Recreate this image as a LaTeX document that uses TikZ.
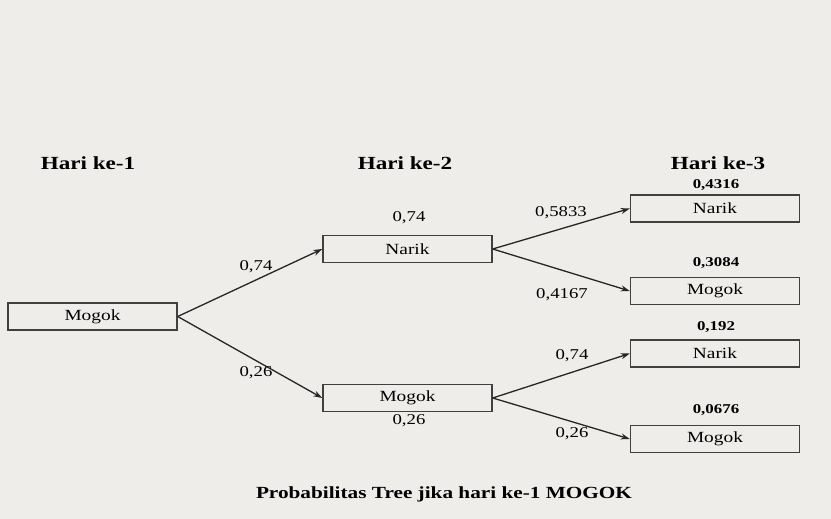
\documentclass[tikz,border=0pt]{standalone}
\usepackage{fontspec}
\setmainfont{Liberation Serif}[FakeStretch=1.25]
\usetikzlibrary{arrows.meta}
\definecolor{paper}{RGB}{238,237,234}
\begin{document}
\begin{tikzpicture}[x=1pt,y=-1pt,
  stbox/.style={draw=black!75, line width=1.4pt, minimum width=169pt, minimum height=27pt, inner sep=0pt, font=\fontsize{15.5}{17}\selectfont},
  head/.style={font=\bfseries\fontsize{18.5}{20}\selectfont},
  prob/.style={font=\fontsize{15}{17}\selectfont},
  joint/.style={font=\bfseries\fontsize{13.5}{15}\selectfont},
  branch/.style={-{Stealth[length=9pt,width=6pt]}, line width=1.3pt, black!85}]
\fill[paper] (0,0) rectangle (831,519);
\useasboundingbox (0,0) rectangle (831,519);

% column headings
\node[head] (h1) at (88,163) {Hari ke-1};
\node[head] (h2) at (405,163) {Hari ke-2};
\node[head] (h3) at (718,163) {Hari ke-3};

% states
\node[stbox] (m1) at (92.5,316.5) {Mogok};
\node[stbox] (n2) at (407.5,249) {Narik};
\node[stbox] (m2) at (407.5,398) {Mogok};
\node[stbox] (n3a) at (715,208.5) {Narik};
\node[stbox] (m3a) at (715,291) {Mogok};
\node[stbox] (n3b) at (715,353.5) {Narik};
\node[stbox] (m3b) at (715,439) {Mogok};

% branches
\draw[branch] (m1.east) -- (n2.west);
\draw[branch] (m1.east) -- (m2.west);
\draw[branch] (n2.east) -- (n3a.west);
\draw[branch] (n2.east) -- (m3a.west);
\draw[branch] (m2.east) -- (n3b.west);
\draw[branch] (m2.east) -- (m3b.west);

% branch probabilities
\node[prob] (p1) at (256,267) {0,74};
\node[prob] (p2) at (256,373) {0,26};
\node[prob] (p3) at (409,218) {0,74};
\node[prob] (p4) at (409,421) {0,26};
\node[prob] (p5) at (561,213) {0,5833};
\node[prob] (p6) at (562,295) {0,4167};
\node[prob] (p7) at (572,356) {0,74};
\node[prob] (p8) at (572,434) {0,26};

% joint probabilities
\node[joint] (j1) at (716,185) {0,4316};
\node[joint] (j2) at (716,263) {0,3084};
\node[joint] (j3) at (716,327) {0,192};
\node[joint] (j4) at (716,410) {0,0676};

% caption
\node[font=\bfseries\fontsize{17}{19}\selectfont] (cap) at (444,494) {Probabilitas Tree jika hari ke-1 MOGOK};
\end{tikzpicture}
\end{document}
